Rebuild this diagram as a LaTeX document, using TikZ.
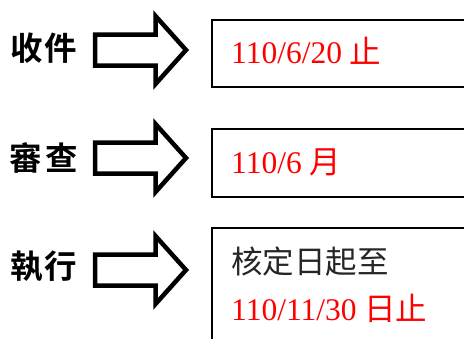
\documentclass[tikz,border=0pt]{standalone}
\usepackage{fontspec}
\setmainfont{Liberation Serif}
\newfontfamily\cjk{Noto Sans CJK TC}
\newfontfamily\cjkbold{Noto Sans CJK TC Bold}

% fat outline arrow, centred on height #1
\newcommand\fatarrow[1]{%
  \draw[fatarrow] (95,{#1-15.5}) -- (155.5,{#1-15.5}) -- (155.5,{#1-34})
    -- (186,#1) -- (155.5,{#1+34}) -- (155.5,{#1+15.5}) -- (95,{#1+15.5}) -- cycle;}

\begin{document}
\begin{tikzpicture}[x=1pt,y=-1pt]
\tikzset{
  steplabel/.style={inner sep=0pt,font=\fontsize{32.5}{36}\selectfont\cjkbold},
  fatarrow/.style={line width=4.5pt,line join=miter},
  datebox/.style={draw,line width=1.8pt,rectangle,inner sep=0pt,anchor=north west},
  datetext/.style={inner sep=0pt,anchor=base west,text=red,font=\fontsize{31.5}{36}\selectfont},
  notetext/.style={inner sep=0pt,anchor=base west,text=black!85,font=\fontsize{31.5}{36}\selectfont\cjk}
}
\clip (0,0) rectangle (464,338);
% row labels
\node[steplabel] (recv) at (44,48) {收\hspace{2pt}件};
\node[steplabel] (review) at (44,158) {審\hspace{4pt}查};
\node[steplabel] (exec) at (44,266) {執\hspace{2pt}行};
% arrows
\fatarrow{50}
\fatarrow{158}
\fatarrow{270}
% boxes
\node[datebox,minimum width=270pt,minimum height=67pt] (recvbox) at (211,19) {};
\node[datebox,minimum width=270pt,minimum height=68pt] (reviewbox) at (211,128) {};
\node[datebox,minimum width=270pt,minimum height=130pt] (execbox) at (211,227) {};
% box texts
\node[datetext] (recvdate) at (231,63) {110/6/20 {\cjk 止}};
\node[datetext] (reviewdate) at (231,173) {110/6 {\cjk 月}};
\node[notetext] (execnote) at (231,273) {核定日起至};
\node[datetext] (execdate) at (231,320) {110/11/30 {\cjk 日止}};
\end{tikzpicture}
\end{document}
